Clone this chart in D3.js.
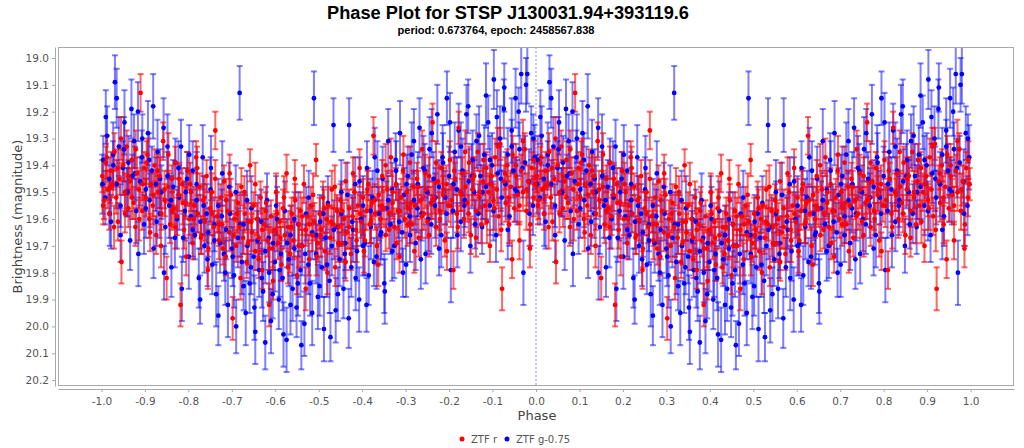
<!DOCTYPE html>
<html>
<head>
<meta charset="utf-8">
<script src="https://cdn.jsdelivr.net/npm/d3@7/dist/d3.min.js"></script>
<style>
  body { margin: 0; background: #fff; }
  svg { display: block; font-family: "DejaVu Sans", sans-serif; }
</style>
</head>
<body>
<div id="content"></div>
<script>
// ZTF r points, phase 0..1: [phase, magnitude, error]. Each one is also drawn at phase - 1.
var rPoints = [
  [0.002,19.44,.06],[0.006,19.53,.07],[0.010,19.39,.06],[0.014,19.49,.07],[0.018,19.58,.06],[0.022,19.42,.07],
  [0.026,19.47,.05],[0.030,19.35,.07],[0.034,19.52,.06],[0.038,19.61,.07],[0.042,19.45,.06],[0.046,19.76,.08],
  [0.050,19.40,.06],[0.054,19.50,.07],[0.058,19.33,.06],[0.062,19.56,.07],[0.066,19.46,.05],[0.070,19.38,.07],
  [0.074,19.54,.06],[0.078,19.63,.07],[0.082,19.43,.06],[0.086,19.49,.07],[0.090,19.13,.07],[0.094,19.57,.07],
  [0.098,19.41,.06],[0.102,19.52,.07],[0.106,19.36,.06],[0.110,19.60,.07],[0.114,19.47,.05],[0.118,19.55,.07],
  [0.122,19.40,.06],[0.126,19.66,.07],[0.130,19.50,.06],[0.134,19.44,.07],[0.138,19.58,.06],[0.142,19.31,.07],
  [0.146,19.53,.06],[0.150,19.82,.08],[0.154,19.48,.06],[0.158,19.62,.07],[0.162,19.45,.05],[0.166,19.56,.07],
  [0.170,19.39,.06],[0.174,19.59,.07],[0.178,19.51,.06],[0.182,19.92,.08],[0.186,19.47,.06],[0.190,19.64,.07],
  [0.194,19.54,.06],[0.198,19.42,.07],[0.202,19.60,.06],[0.206,19.50,.07],[0.210,19.69,.06],[0.214,19.55,.07],
  [0.218,19.37,.06],[0.222,19.58,.07],[0.226,19.48,.05],[0.230,19.66,.07],[0.234,19.53,.06],[0.238,19.61,.07],
  [0.242,19.44,.06],[0.246,19.71,.07],[0.250,19.56,.06],[0.254,19.50,.07],[0.258,19.63,.06],[0.262,19.27,.07],
  [0.266,19.59,.06],[0.270,19.68,.07],[0.274,19.52,.05],[0.278,19.62,.07],[0.282,19.46,.06],[0.286,19.74,.07],
  [0.290,19.57,.06],[0.294,19.65,.07],[0.298,19.51,.06],[0.302,19.97,.08],[0.306,19.60,.07],[0.310,19.70,.06],
  [0.314,19.54,.07],[0.318,19.63,.06],[0.322,19.48,.07],[0.326,19.67,.06],[0.330,19.58,.07],[0.334,19.76,.06],
  [0.338,19.61,.07],[0.342,19.40,.06],[0.346,19.65,.07],[0.350,19.55,.05],[0.354,19.72,.07],[0.358,19.60,.06],
  [0.362,19.67,.07],[0.366,19.52,.06],[0.370,19.79,.07],[0.374,19.62,.06],[0.378,19.57,.07],[0.382,19.68,.06],
  [0.386,19.92,.08],[0.390,19.59,.06],[0.394,19.71,.07],[0.398,19.64,.06],[0.402,19.50,.07],[0.406,19.69,.06],
  [0.410,19.61,.07],[0.414,19.77,.06],[0.418,19.56,.07],[0.422,19.66,.05],[0.426,19.43,.07],[0.430,19.63,.06],
  [0.434,19.73,.07],[0.438,19.58,.06],[0.442,19.68,.07],[0.446,19.53,.06],[0.450,19.81,.07],[0.454,19.62,.06],
  [0.458,19.57,.07],[0.462,19.70,.06],[0.466,19.47,.07],[0.470,19.64,.06],[0.474,19.59,.07],[0.478,19.75,.06],
  [0.482,19.55,.07],[0.486,19.66,.06],[0.490,19.61,.07],[0.494,19.38,.06],[0.498,19.69,.07],[0.502,19.58,.06],
  [0.506,19.64,.07],[0.510,19.52,.06],[0.514,19.72,.07],[0.518,19.60,.05],[0.522,19.55,.07],[0.526,19.67,.06],
  [0.530,19.49,.07],[0.534,19.62,.06],[0.538,19.78,.07],[0.542,19.57,.06],[0.546,19.63,.07],[0.550,19.53,.06],
  [0.554,19.69,.07],[0.558,19.60,.06],[0.562,19.46,.07],[0.566,19.65,.06],[0.570,19.56,.07],[0.574,19.73,.06],
  [0.578,19.59,.07],[0.582,19.50,.06],[0.586,19.64,.07],[0.590,19.55,.05],[0.594,19.41,.07],[0.598,19.61,.06],
  [0.602,19.52,.07],[0.606,19.68,.06],[0.610,19.57,.07],[0.614,19.47,.06],[0.618,19.62,.07],[0.622,19.54,.06],
  [0.626,19.29,.07],[0.630,19.58,.06],[0.634,19.70,.07],[0.638,19.51,.06],[0.642,19.60,.07],[0.646,19.44,.06],
  [0.650,19.56,.07],[0.654,19.66,.06],[0.658,19.49,.07],[0.662,19.58,.05],[0.666,19.37,.07],[0.670,19.54,.06],
  [0.674,19.63,.07],[0.678,19.47,.06],[0.682,19.57,.07],[0.686,19.74,.06],[0.690,19.52,.07],[0.694,19.42,.06],
  [0.698,19.60,.07],[0.702,19.50,.06],[0.706,19.56,.07],[0.710,19.39,.06],[0.714,19.62,.07],[0.718,19.48,.06],
  [0.722,19.55,.07],[0.726,19.45,.06],[0.730,19.67,.07],[0.734,19.53,.05],[0.738,19.34,.07],[0.742,19.58,.06],
  [0.746,19.49,.07],[0.750,19.61,.06],[0.754,19.44,.07],[0.758,19.54,.06],[0.762,19.24,.07],[0.766,19.52,.06],
  [0.770,19.63,.07],[0.774,19.46,.06],[0.778,19.57,.07],[0.782,19.41,.06],[0.786,19.51,.07],[0.790,19.68,.06],
  [0.794,19.47,.07],[0.798,19.55,.06],[0.802,19.38,.07],[0.806,19.53,.05],[0.810,19.79,.07],[0.814,19.45,.06],
  [0.818,19.58,.07],[0.822,19.26,.06],[0.826,19.50,.07],[0.830,19.43,.06],[0.834,19.60,.07],[0.838,19.48,.06],
  [0.842,19.54,.07],[0.846,19.39,.06],[0.850,19.66,.07],[0.854,19.49,.06],[0.858,19.44,.07],[0.862,19.57,.06],
  [0.866,19.35,.07],[0.870,19.52,.06],[0.874,19.62,.07],[0.878,19.46,.05],[0.882,19.55,.07],[0.886,19.41,.06],
  [0.890,19.50,.07],[0.894,19.70,.06],[0.898,19.44,.07],[0.902,19.53,.06],[0.906,19.37,.07],[0.910,19.49,.06],
  [0.914,19.59,.07],[0.918,19.32,.06],[0.922,19.86,.08],[0.926,19.46,.06],[0.930,19.54,.07],[0.934,19.40,.06],
  [0.938,19.62,.07],[0.942,19.48,.06],[0.946,19.36,.07],[0.950,19.56,.05],[0.954,19.44,.07],[0.958,19.51,.06],
  [0.962,19.68,.07],[0.966,19.42,.06],[0.970,19.50,.07],[0.974,19.34,.06],[0.978,19.57,.07],[0.982,19.46,.06],
  [0.986,19.71,.07],[0.990,19.41,.06],[0.994,19.52,.07],[0.998,19.47,.06],
  [0.004,19.55,.07],[0.012,19.37,.08],[0.020,19.48,.06],[0.029,19.63,.08],[0.037,19.41,.07],[0.045,19.30,.08],
  [0.054,19.58,.07],[0.062,19.44,.06],[0.070,19.52,.08],[0.079,19.34,.07],[0.087,19.60,.08],[0.095,19.47,.06],
  [0.104,19.39,.08],[0.112,19.65,.07],[0.120,19.51,.08],[0.129,19.42,.06],[0.137,19.70,.08],[0.145,19.49,.07],
  [0.154,19.36,.08],[0.162,19.57,.07],[0.170,19.63,.08],[0.179,19.45,.06],[0.187,19.54,.08],[0.195,19.74,.07],
  [0.204,19.47,.08],[0.212,19.60,.07],[0.220,19.41,.08],[0.229,19.67,.06],[0.237,19.52,.08],[0.245,19.79,.07],
  [0.254,19.58,.08],[0.262,19.45,.07],[0.270,19.62,.08],[0.279,19.71,.06],[0.287,19.53,.08],[0.295,19.43,.07],
  [0.304,19.66,.08],[0.312,19.58,.07],[0.320,19.82,.08],[0.329,19.50,.06],[0.337,19.69,.08],[0.345,19.61,.07],
  [0.354,19.47,.08],[0.362,19.75,.07],[0.370,19.64,.08],[0.379,19.54,.06],[0.387,19.71,.08],[0.395,19.83,.07],
  [0.404,19.58,.08],[0.412,19.67,.07],[0.420,19.52,.08],[0.429,19.78,.06],[0.437,19.63,.08],[0.445,19.45,.07],
  [0.454,19.70,.08],[0.462,19.59,.07],[0.470,19.86,.08],[0.479,19.62,.06],[0.487,19.51,.08],[0.495,19.74,.07],
  [0.504,19.66,.08],[0.512,19.56,.07],[0.520,19.80,.08],[0.529,19.61,.06],[0.537,19.48,.08],[0.545,19.69,.07],
  [0.554,19.57,.08],[0.562,19.76,.07],[0.570,19.63,.08],[0.579,19.43,.06],[0.587,19.68,.08],[0.595,19.58,.07],
  [0.604,19.72,.08],[0.612,19.49,.07],[0.620,19.61,.08],[0.629,19.53,.06],[0.637,19.77,.08],[0.645,19.55,.07],
  [0.654,19.40,.08],[0.662,19.64,.07],[0.670,19.50,.08],[0.679,19.69,.06],[0.687,19.57,.08],[0.695,19.36,.07],
  [0.704,19.62,.08],[0.712,19.54,.07],[0.720,19.72,.08],[0.729,19.48,.06],[0.737,19.59,.08],[0.745,19.43,.07],
  [0.754,19.66,.08],[0.762,19.53,.07],[0.770,19.39,.08],[0.779,19.60,.06],[0.787,19.49,.08],[0.795,19.72,.07],
  [0.804,19.55,.08],[0.812,19.42,.07],[0.820,19.63,.08],[0.829,19.51,.06],[0.837,19.35,.08],[0.845,19.58,.07],
  [0.854,19.45,.08],[0.862,19.67,.07],[0.870,19.50,.08],[0.879,19.38,.06],[0.887,19.61,.08],[0.895,19.47,.07],
  [0.904,19.56,.08],[0.912,19.33,.07],[0.920,19.64,.08],[0.929,19.43,.06],[0.937,19.52,.08],[0.945,19.75,.07],
  [0.954,19.40,.08],[0.962,19.55,.07],[0.970,19.31,.08],[0.979,19.49,.06],[0.987,19.62,.08],[0.995,19.38,.07]
];

// ZTF g points shifted by -0.75 mag, phase 0..1: [phase, magnitude, error].
var gPoints = [
  [0.004,19.38,.09],[0.009,19.52,.10],[0.013,19.29,.11],[0.018,19.45,.08],[0.022,19.61,.10],[0.027,19.36,.12],
  [0.031,19.09,.10],[0.035,19.47,.09],[0.040,19.33,.11],[0.044,19.55,.08],[0.049,19.41,.10],[0.053,19.24,.12],
  [0.058,19.50,.09],[0.062,19.39,.10],[0.066,19.68,.11],[0.071,19.44,.08],[0.075,19.31,.10],[0.080,19.57,.12],
  [0.084,19.20,.11],[0.089,19.46,.09],[0.093,19.37,.10],[0.098,19.62,.11],[0.102,19.49,.08],[0.107,19.28,.12],
  [0.111,19.53,.10],[0.116,19.42,.09],[0.120,19.71,.11],[0.125,19.47,.10],[0.129,19.35,.12],[0.134,19.58,.09],
  [0.138,19.50,.10],[0.143,19.26,.11],[0.147,19.63,.10],[0.152,19.44,.09],[0.156,19.55,.12],[0.161,19.78,.11],
  [0.165,19.48,.10],[0.170,19.39,.09],[0.174,19.60,.11],[0.179,19.52,.12],[0.183,19.33,.10],[0.188,19.67,.09],
  [0.192,19.57,.11],[0.197,19.45,.10],[0.201,19.74,.12],[0.206,19.59,.10],[0.210,19.42,.11],[0.215,19.66,.09],
  [0.219,19.53,.12],[0.224,19.82,.11],[0.228,19.61,.10],[0.233,19.37,.12],[0.237,19.70,.10],[0.242,19.58,.11],
  [0.246,19.65,.09],[0.251,19.49,.12],[0.255,19.77,.11],[0.260,19.62,.10],[0.264,19.88,.12],[0.269,19.55,.10],
  [0.273,19.69,.11],[0.278,19.43,.12],[0.282,19.73,.10],[0.287,19.64,.11],[0.291,19.92,.12],[0.296,19.58,.10],
  [0.300,19.71,.11],[0.305,19.81,.12],[0.309,19.50,.10],[0.314,19.67,.11],[0.318,19.13,.10],[0.323,19.76,.12],
  [0.327,19.62,.11],[0.332,19.95,.12],[0.336,19.70,.10],[0.341,19.84,.11],[0.345,19.56,.12],[0.350,19.74,.10],
  [0.354,20.02,.12],[0.359,19.68,.11],[0.363,19.79,.10],[0.368,19.61,.12],[0.372,19.87,.11],[0.377,19.72,.12],
  [0.381,19.53,.10],[0.386,19.80,.11],[0.390,19.98,.12],[0.395,19.69,.10],[0.399,19.76,.11],[0.404,19.60,.12],
  [0.408,19.90,.11],[0.413,19.73,.10],[0.417,19.82,.12],[0.422,19.57,.11],[0.426,20.05,.12],[0.431,19.75,.10],
  [0.435,19.66,.11],[0.440,19.86,.12],[0.444,19.71,.10],[0.449,19.93,.11],[0.453,19.62,.12],[0.458,19.79,.10],
  [0.462,19.70,.11],[0.467,19.99,.12],[0.471,19.58,.10],[0.476,19.77,.11],[0.480,19.84,.12],[0.485,19.65,.10],
  [0.489,19.15,.10],[0.494,19.73,.11],[0.498,19.89,.12],[0.503,19.61,.10],[0.507,19.78,.11],[0.512,20.01,.12],
  [0.516,19.67,.11],[0.521,19.54,.10],[0.525,19.83,.12],[0.530,19.70,.11],[0.534,19.25,.10],[0.539,19.94,.12],
  [0.543,19.63,.11],[0.548,19.75,.10],[0.552,19.58,.12],[0.557,19.86,.11],[0.561,19.69,.10],[0.566,19.51,.12],
  [0.570,19.25,.10],[0.575,19.78,.11],[0.579,19.64,.12],[0.584,19.47,.10],[0.588,19.72,.11],[0.593,19.90,.12],
  [0.597,19.60,.10],[0.602,19.55,.11],[0.606,19.69,.12],[0.611,19.41,.10],[0.615,19.81,.11],[0.620,19.63,.12],
  [0.624,19.52,.10],[0.629,19.37,.11],[0.633,19.74,.12],[0.638,19.58,.10],[0.642,19.66,.11],[0.647,19.45,.12],
  [0.651,19.84,.11],[0.656,19.56,.10],[0.660,19.31,.12],[0.665,19.62,.11],[0.669,19.49,.10],[0.674,19.70,.12],
  [0.678,19.42,.11],[0.683,19.57,.10],[0.687,19.28,.12],[0.692,19.65,.11],[0.696,19.51,.10],[0.701,19.77,.12],
  [0.705,19.44,.11],[0.710,19.59,.10],[0.714,19.36,.12],[0.719,19.53,.11],[0.723,19.69,.10],[0.728,19.47,.12],
  [0.732,19.26,.11],[0.737,19.58,.10],[0.741,19.41,.12],[0.746,19.73,.11],[0.750,19.50,.10],[0.755,19.34,.12],
  [0.759,19.62,.11],[0.764,19.45,.10],[0.768,19.55,.12],[0.773,19.21,.11],[0.777,19.48,.10],[0.782,19.66,.12],
  [0.786,19.39,.11],[0.791,19.52,.10],[0.795,19.15,.10],[0.800,19.44,.11],[0.804,19.79,.12],[0.809,19.57,.10],
  [0.813,19.35,.11],[0.818,19.49,.12],[0.822,19.27,.10],[0.827,19.61,.11],[0.831,19.42,.12],[0.836,19.53,.10],
  [0.840,19.21,.11],[0.845,19.46,.12],[0.849,19.70,.10],[0.854,19.38,.11],[0.858,19.50,.12],[0.863,19.31,.10],
  [0.867,19.58,.11],[0.872,19.44,.12],[0.876,19.63,.10],[0.881,19.36,.11],[0.885,19.48,.12],[0.890,19.24,.10],
  [0.894,19.55,.11],[0.899,19.40,.12],[0.903,19.08,.11],[0.908,19.66,.10],[0.912,19.43,.11],[0.917,19.30,.12],
  [0.921,19.52,.10],[0.926,19.19,.11],[0.930,19.47,.12],[0.935,19.36,.10],[0.939,19.59,.11],[0.944,19.27,.12],
  [0.948,19.42,.10],[0.953,19.15,.11],[0.957,19.50,.12],[0.962,19.34,.10],[0.966,19.06,.11],[0.971,19.80,.12],
  [0.975,19.39,.10],[0.980,19.06,.11],[0.984,19.46,.12],[0.989,19.28,.10],[0.993,19.55,.11],[0.997,19.37,.12],
  [0.002,19.47,.11],[0.010,19.22,.10],[0.019,19.58,.12],[0.027,19.40,.09],[0.035,19.15,.11],[0.044,19.66,.10],
  [0.052,19.34,.12],[0.060,19.50,.09],[0.069,19.19,.11],[0.077,19.43,.10],[0.085,19.73,.12],[0.094,19.30,.09],
  [0.102,19.56,.11],[0.110,19.38,.10],[0.119,19.18,.12],[0.127,19.61,.09],[0.135,19.45,.11],[0.144,19.80,.10],
  [0.152,19.33,.12],[0.160,19.53,.09],[0.169,19.67,.11],[0.177,19.41,.10],[0.185,19.86,.12],[0.194,19.50,.09],
  [0.202,19.36,.11],[0.210,19.64,.10],[0.219,19.47,.12],[0.227,19.90,.09],[0.235,19.55,.11],[0.244,19.75,.10],
  [0.252,19.41,.12],[0.260,19.68,.09],[0.269,19.96,.11],[0.277,19.59,.10],[0.285,19.80,.12],[0.294,19.48,.09],
  [0.302,19.74,.11],[0.310,20.00,.10],[0.319,19.62,.12],[0.327,19.85,.09],[0.335,19.53,.11],[0.344,19.78,.10],
  [0.352,19.93,.12],[0.360,19.60,.09],[0.369,19.82,.11],[0.377,20.06,.10],[0.385,19.67,.12],[0.394,19.88,.09],
  [0.402,19.55,.11],[0.410,19.79,.10],[0.419,20.03,.12],[0.427,19.69,.09],[0.435,19.92,.11],[0.444,19.60,.10],
  [0.452,19.84,.12],[0.460,20.07,.09],[0.469,19.73,.11],[0.477,19.52,.10],[0.485,19.95,.12],[0.494,19.66,.09],
  [0.502,19.85,.11],[0.510,19.58,.10],[0.519,19.77,.12],[0.527,20.04,.09],[0.535,19.64,.11],[0.544,19.88,.10],
  [0.552,19.50,.12],[0.560,19.73,.09],[0.569,19.97,.11],[0.577,19.61,.10],[0.585,19.82,.12],[0.594,19.46,.09],
  [0.602,19.70,.11],[0.610,19.92,.10],[0.619,19.57,.12],[0.627,19.76,.09],[0.635,19.42,.11],[0.644,19.65,.10],
  [0.652,19.87,.12],[0.660,19.53,.09],[0.669,19.72,.11],[0.677,19.38,.10],[0.685,19.61,.12],[0.694,19.80,.09],
  [0.702,19.47,.11],[0.710,19.66,.10],[0.719,19.31,.12],[0.727,19.56,.09],[0.735,19.75,.11],[0.744,19.42,.10],
  [0.752,19.60,.12],[0.760,19.28,.09],[0.769,19.52,.11],[0.777,19.71,.10],[0.785,19.37,.12],[0.794,19.58,.09],
  [0.802,19.24,.11],[0.810,19.47,.10],[0.819,19.66,.12],[0.827,19.33,.09],[0.835,19.55,.11],[0.844,19.18,.10],
  [0.852,19.44,.12],[0.860,19.62,.09],[0.869,19.29,.11],[0.877,19.50,.10],[0.885,19.14,.12],[0.894,19.38,.09],
  [0.902,19.57,.11],[0.910,19.22,.10],[0.919,19.45,.12],[0.927,19.11,.09],[0.935,19.64,.11],[0.944,19.33,.10],
  [0.952,19.49,.12],[0.960,19.20,.09],[0.969,19.41,.11],[0.977,19.10,.10],[0.985,19.58,.12],[0.994,19.30,.09]
];

var xTicks = [-1.0,-0.9,-0.8,-0.7,-0.6,-0.5,-0.4,-0.3,-0.2,-0.1,0.0,0.1,0.2,0.3,0.4,0.5,0.6,0.7,0.8,0.9,1.0];
var yTicks = [19.0,19.1,19.2,19.3,19.4,19.5,19.6,19.7,19.8,19.9,20.0,20.1,20.2];
var seriesNames = ['ZTF r', 'ZTF g-0.75'];
var seriesColors = ['#ff0000', '#0000ff'];

var width = 1024, height = 448;
var plot = {left: 58, right: 1014, top: 47, bottom: 386};

var svg = d3.select('#content').append('svg')
    .attr('width', width)
    .attr('height', height);

var x = d3.scaleLinear().domain([-1.1, 1.1]).range([plot.left, plot.right]);
// magnitudes: brighter (smaller) at the top
var y = d3.scaleLinear().domain([18.959, 20.222]).range([plot.top, plot.bottom]);

var fmt = function(d) { return (Math.round(d * 10) / 10).toFixed(1); };

// Titles
svg.append('text')
    .attr('x', 508).attr('y', 19)
    .attr('text-anchor', 'middle')
    .style('font-family', '"Liberation Sans", Arial, sans-serif')
    .style('font-weight', 'bold').style('font-size', '18px')
    .attr('textLength', 362).attr('lengthAdjust', 'spacingAndGlyphs')
    .text('Phase Plot for STSP J130031.94+393119.6');
svg.append('text')
    .attr('x', 496).attr('y', 34)
    .attr('text-anchor', 'middle')
    .style('font-family', '"Liberation Sans", Arial, sans-serif')
    .style('font-weight', 'bold').style('font-size', '10px')
    .attr('textLength', 197).attr('lengthAdjust', 'spacingAndGlyphs')
    .text('period: 0.673764, epoch: 2458567.838');

// Plot frame
svg.append('rect')
    .attr('x', plot.left + 0.5).attr('y', plot.top + 0.5)
    .attr('width', plot.right - plot.left - 1).attr('height', plot.bottom - plot.top - 1)
    .attr('fill', '#fff').attr('stroke', '#a8a8a8');

svg.append('clipPath').attr('id', 'clip')
  .append('rect')
    .attr('x', plot.left + 1).attr('y', plot.top + 1)
    .attr('width', plot.right - plot.left - 2).attr('height', plot.bottom - plot.top - 2);

// Axes
var xAxis = svg.append('g')
    .attr('transform', 'translate(0,' + (plot.bottom + 3) + ')')
    .call(d3.axisBottom(x).tickValues(xTicks).tickFormat(fmt).tickSize(3).tickSizeOuter(0));
var yAxis = svg.append('g')
    .attr('transform', 'translate(' + (plot.left - 3) + ',0)')
    .call(d3.axisLeft(y).tickValues(yTicks).tickFormat(fmt).tickSize(3).tickSizeOuter(0));
[xAxis, yAxis].forEach(function(a) {
    a.select('.domain').attr('stroke', '#a8a8a8');
    a.selectAll('.tick line').attr('stroke', '#a8a8a8');
    a.selectAll('.tick text').attr('fill', '#555')
        .style('font-family', '"DejaVu Sans", sans-serif').style('font-size', '10.5px');
});
xAxis.selectAll('.tick text').attr('dy', '0.95em');

svg.append('text')
    .attr('x', (plot.left + plot.right) / 2 + 1).attr('y', 420)
    .attr('text-anchor', 'middle').attr('fill', '#444')
    .style('font-size', '13px')
    .text('Phase');
svg.append('text')
    .attr('transform', 'translate(22,' + (plot.top + plot.bottom) / 2 + ') rotate(-90)')
    .attr('text-anchor', 'middle').attr('fill', '#444')
    .style('font-size', '13px')
    .text('Brightness (magnitude)');

var chart = svg.append('g').attr('clip-path', 'url(#clip)');

// zero phase marker
chart.append('line')
    .attr('x1', x(0)).attr('x2', x(0))
    .attr('y1', plot.top).attr('y2', plot.bottom)
    .attr('stroke', '#8c8cff').attr('stroke-width', 1)
    .attr('stroke-dasharray', '2,2');

// each observation appears at its phase and one cycle earlier
function unfold(points) {
    var out = [];
    points.forEach(function(p) {
        out.push({phase: p[0], mag: p[1], err: p[2]});
        out.push({phase: p[0] - 1, mag: p[1], err: p[2]});
    });
    return out;
}
var series = [unfold(rPoints), unfold(gPoints)];

function drawBars(data, color, alpha) {
    var g = chart.append('g')
        .attr('stroke', color).attr('stroke-opacity', alpha).attr('stroke-width', 2);
    var bars = g.selectAll('g').data(data).enter().append('g');
    bars.append('line')
        .attr('x1', function(d) { return x(d.phase); })
        .attr('x2', function(d) { return x(d.phase); })
        .attr('y1', function(d) { return y(d.mag - d.err); })
        .attr('y2', function(d) { return y(d.mag + d.err); });
    bars.append('line')
        .attr('x1', function(d) { return x(d.phase) - 3; })
        .attr('x2', function(d) { return x(d.phase) + 3; })
        .attr('y1', function(d) { return y(d.mag - d.err); })
        .attr('y2', function(d) { return y(d.mag - d.err); });
    bars.append('line')
        .attr('x1', function(d) { return x(d.phase) - 3; })
        .attr('x2', function(d) { return x(d.phase) + 3; })
        .attr('y1', function(d) { return y(d.mag + d.err); })
        .attr('y2', function(d) { return y(d.mag + d.err); });
}

function drawDots(data, color) {
    chart.append('g').selectAll('circle').data(data).enter()
        .append('circle')
        .attr('cx', function(d) { return x(d.phase); })
        .attr('cy', function(d) { return y(d.mag); })
        .attr('r', 2.4)
        .attr('fill', color);
}

// g series first, then r on top; all error bars go under all dots
drawBars(series[1], seriesColors[1], 0.5);
drawBars(series[0], seriesColors[0], 0.6);
drawDots(series[1], seriesColors[1]);
drawDots(series[0], seriesColors[0]);

// Legend
var legend = svg.append('g').attr('transform', 'translate(0,439)');
var legendX = [462, 507];
seriesNames.forEach(function(name, i) {
    legend.append('circle').attr('cx', legendX[i]).attr('cy', 0).attr('r', 2.5).attr('fill', seriesColors[i]);
    legend.append('text').attr('x', legendX[i] + 9).attr('y', 3.5)
        .attr('fill', '#555').style('font-size', '10px')
        .text(name);
});
</script>
</body>
</html>
